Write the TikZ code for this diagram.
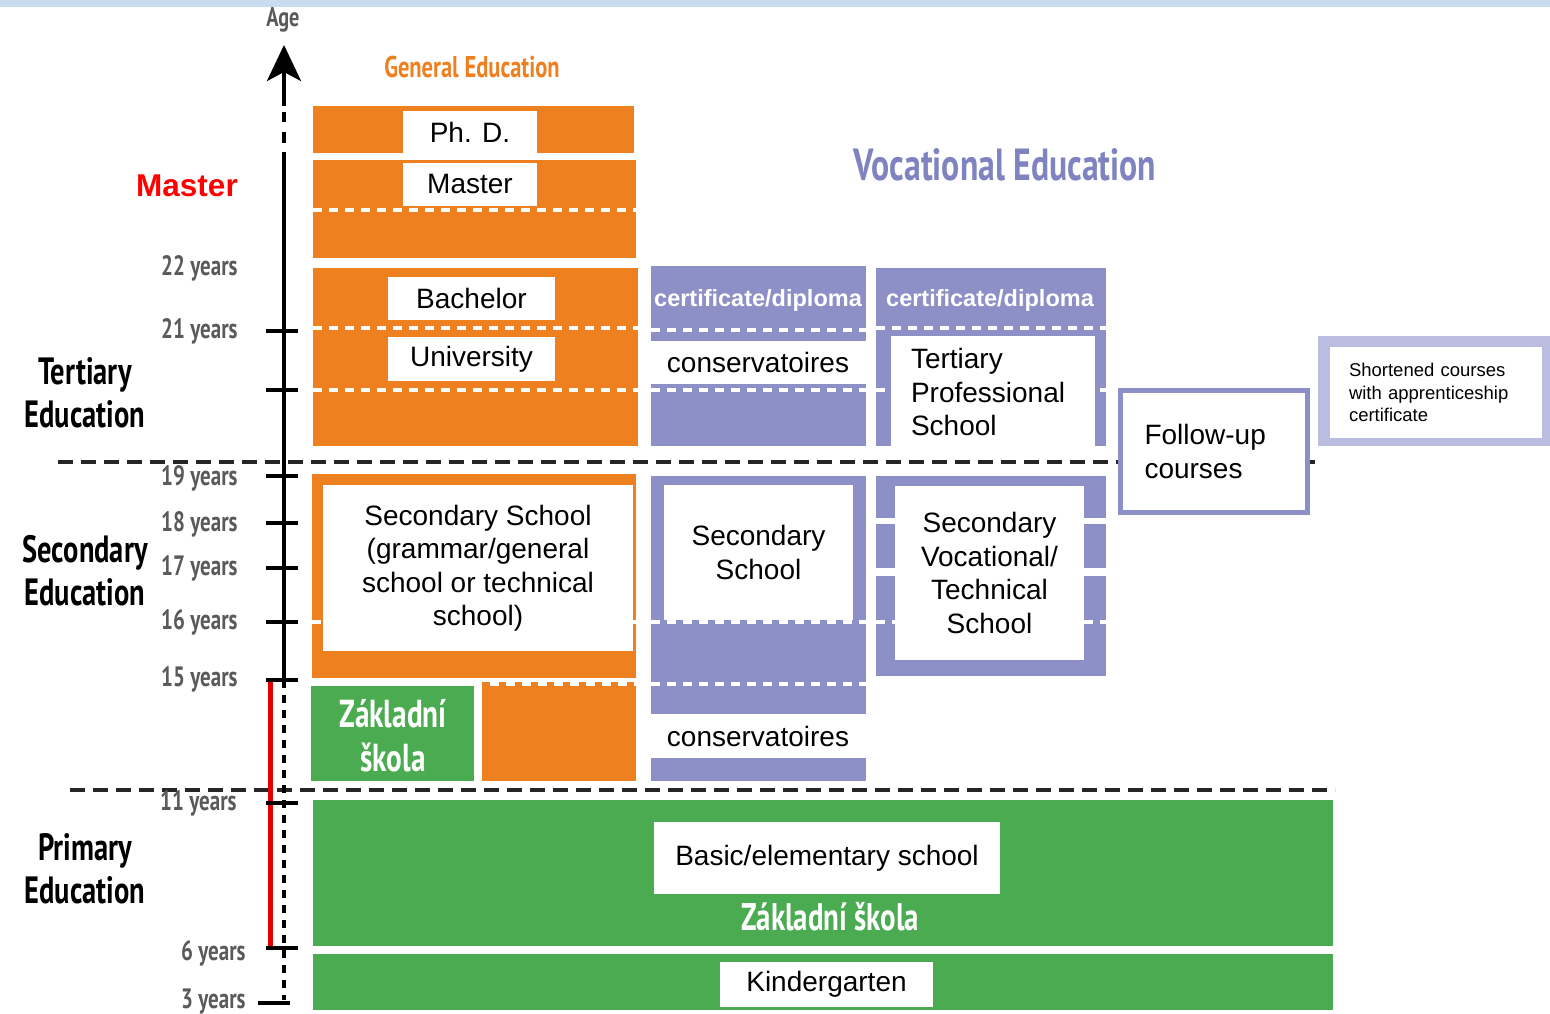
\documentclass[tikz,border=0pt]{standalone}
\usepackage{fontspec}
\setmainfont{Liberation Sans}
\newfontfamily\condfont[FakeStretch=0.75]{PT Sans}
\usetikzlibrary{arrows.meta}
\definecolor{eduorange}{HTML}{EE8020}
\definecolor{edupurple}{HTML}{8D90C6}
\definecolor{edulight}{HTML}{BBBDE0}
\definecolor{edugreen}{HTML}{4BAB51}
\definecolor{agegray}{HTML}{5A5A5A}
\definecolor{topblue}{HTML}{C9DDF0}
\definecolor{vocblue}{HTML}{7F83C0}
\tikzset{
	whitebox/.style={fill=white, inner sep=0pt, align=center, font=\fontsize{28}{33.5}\selectfont},
	whitedash/.style={white, line width=4pt, dash pattern=on 9pt off 7pt},
	sepline/.style={black!85, line width=4.5pt, dash pattern=on 15pt off 8pt},
	axisline/.style={black, line width=4pt},
	agetick/.style={black, line width=4pt},
	agelabel/.style={anchor=east, text=agegray, font=\condfont\bfseries\fontsize{28}{28}\selectfont},
	edulabel/.style={align=center, font=\condfont\bfseries\fontsize{38}{43}\selectfont},
	certlabel/.style={text=white, font=\bfseries\fontsize{23.5}{23.5}\selectfont},
}

\begin{document}
\begin{tikzpicture}[x=1pt, y=-1pt]
	\useasboundingbox (0,0) rectangle (1550,1014);
	\fill[white] (0,0) rectangle (1550,1014);
	\fill[topblue] (0,0) rectangle (1550,7);

	\begin{scope}
		\fill[eduorange] (313,106) rectangle (634,153);
		\fill[eduorange] (313,160) rectangle (636,258);
		\fill[eduorange] (313,268) rectangle (638,446);
		\fill[eduorange] (312,474) rectangle (636,678);
		\fill[eduorange] (482,682) rectangle (636,781);
		\fill[edugreen] (311,686) rectangle (474,781);
		\draw[whitedash] (313,210) -- (636,210);
		\foreach \y in {328,390}
			\draw[whitedash] (313,\y) -- (638,\y);
		\draw[whitedash] (312,622) -- (636,622);
		\draw[whitedash] (490,684) -- (636,684);
	\end{scope}

	\begin{scope}
		\fill[edupurple] (651,266) rectangle (866,446);
		\fill[edupurple] (651,476) rectangle (866,781);
		\fill[edupurple] (876,268) rectangle (1106,446);
		\foreach \a/\b in {476/518,524/568,576/676}
			\fill[edupurple] (876,\a) rectangle (1106,\b);
		\foreach \y in {330,390,622,684}
			\draw[whitedash] (651,\y) -- (866,\y);
		\foreach \y in {328,390,622}
			\draw[whitedash] (876,\y) -- (1106,\y);
		\node[certlabel] (certa) at (758,300) {certificate/diploma};
		\node[certlabel] (certb) at (990,300) {certificate/diploma};
	\end{scope}

	\fill[edugreen] (313,800) rectangle (1333,946);
	\fill[edugreen] (313,954) rectangle (1333,1010);
	\fill[edulight] (1318,336) rectangle (1550,446);

	\draw[sepline] (58,462) -- (1318,462);
	\draw[sepline] (70,790) -- (1335,790);

	\coordinate (axtip) at (284,45);
	\coordinate (axbase) at (284,106);
	\coordinate (axtop) at (284,152);
	\coordinate (ax15) at (284,680);
	\coordinate (axbot) at (284,1000);
	\draw[axisline, -{Stealth[length=36pt, width=34pt, inset=9pt]}] (axbase) -- (axtip);
	\foreach \a/\b in {112/122,132/143}
		\draw[axisline] (284,\a) -- (284,\b);
	\draw[axisline] (axtop) -- (ax15);
	\draw[axisline, dash pattern=on 8pt off 7pt] (ax15) -- (axbot);
	\draw[red!90!black, line width=5pt] (270,680) -- (270,948);
	\foreach \y in {331,390,476,523,568,622,680,803,948}
		\draw[agetick] (266,\y) -- (298,\y);
	\draw[agetick] (258,1003) -- (290,1003);

	\node[agelabel] (y22) at (241,268) {22 years};
	\node[agelabel] (y21) at (241,331) {21 years};
	\node[agelabel] (y19) at (241,478) {19 years};
	\node[agelabel] (y18) at (241,524) {18 years};
	\node[agelabel] (y17) at (241,568) {17 years};
	\node[agelabel] (y16) at (241,622) {16 years};
	\node[agelabel] (y15) at (241,679) {15 years};
	\node[agelabel] (y11) at (240,803) {11 years};
	\node[agelabel] (y6) at (249,953) {6 years};
	\node[agelabel] (y3) at (249,1002) {3 years};
	\node[text=agegray, font=\condfont\bfseries\fontsize{27}{27}\selectfont] (age) at (283,20) {Age};

	\node[text=red, font=\bfseries\fontsize{31.5}{31.5}\selectfont] (mastlbl) at (187,186) {Master};
	\node[edulabel] (tertlbl) at (85,393) {Tertiary\\Education};
	\node[edulabel] (seclbl) at (85,571) {Secondary\\Education};
	\node[edulabel] (primlbl) at (85,869) {Primary\\Education};
	\node[text=eduorange, font=\condfont\bfseries\fontsize{30}{30}\selectfont] (genedu) at (472,67) {General Education};
	\node[text=vocblue, font=\condfont\bfseries\fontsize{45}{45}\selectfont] (vocedu) at (1005,165) {Vocational Education};

	\node[whitebox, minimum width=134pt, minimum height=42pt] (phd) at (470,132) {Ph. D.};
	\node[whitebox, minimum width=134pt, minimum height=43pt] (master) at (470,184.5) {Master};
	\node[whitebox, minimum width=167pt, minimum height=43pt] (bachelor) at (471.5,298.5) {Bachelor};
	\node[whitebox, minimum width=167pt, minimum height=44pt] (univ) at (471.5,359) {University};
	\node[whitebox, minimum width=310pt, minimum height=166pt] (secgen) at (478,568) {Secondary School\\(grammar/general\\school or technical\\school)};
	\node[text=white, edulabel, font=\condfont\bfseries\fontsize{39}{44}\selectfont] (zakl) at (393,736) {Základní\\škola};

	\node[whitebox, minimum width=220pt, minimum height=43pt] (consup) at (758,362.5) {conservatoires};
	\node[whitebox, minimum width=220pt, minimum height=44pt] (conslow) at (758,736) {conservatoires};
	\node[whitebox, minimum width=189pt, minimum height=135pt] (secvoc) at (758.5,552.5) {Secondary\\School};
	\node[whitebox, minimum width=189pt, minimum height=174pt] (secvoctech) at (989.5,573) {Secondary\\Vocational/\\Technical\\School};
	\node[whitebox, align=left, inner xsep=20pt, text width=164pt, minimum height=112pt] (tertprof) at (993,392) {Tertiary\\Professional\\School};
	\node[whitebox, draw=edupurple, line width=5pt, align=left, inner xsep=24pt, text width=139pt, minimum height=122pt] (followup) at (1214,451.5) {Follow-up\\courses};
	\node[whitebox, align=left, inner xsep=19pt, text width=174pt, minimum height=91pt, font=\fontsize{18.5}{22.5}\selectfont] (shortened) at (1436,392.5) {Shortened courses\\with apprenticeship\\certificate};

	\node[whitebox, minimum width=346pt, minimum height=72pt] (basic) at (827,858) {Basic/elementary school};
	\node[text=white, font=\condfont\bfseries\fontsize{38.5}{38.5}\selectfont] (zaklbig) at (830,917) {Základní škola};
	\node[whitebox, minimum width=213pt, minimum height=45pt] (kinder) at (826.5,984.5) {Kindergarten};
\end{tikzpicture}
\end{document}
